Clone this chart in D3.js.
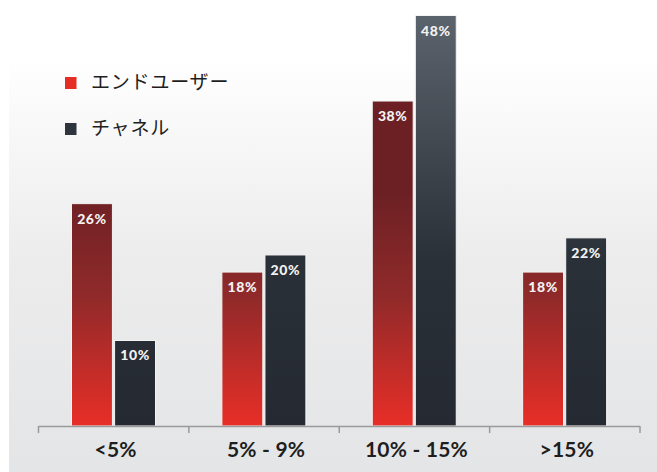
<!DOCTYPE html>
<html>
<head>
<meta charset="utf-8">
<script src="https://cdn.jsdelivr.net/npm/d3@7"></script>
<style>
  html, body { margin: 0; padding: 0; background: #ffffff; }
  svg { display: block; }
</style>
</head>
<body>
<svg id="chart" width="657" height="472"></svg>
<script>
// Share of respondents by growth range, end users vs. channel
const categories = ["<5%", "5% - 9%", "10% - 15%", ">15%"];
const seriesNames = ["エンドユーザー", "チャネル"];
const endUserValues = [26, 18, 38, 18];
const channelValues = [10, 20, 48, 22];

const W = 657, H = 472;
const svg = d3.select("#chart");
const defs = svg.append("defs");

// soft grey backdrop that fades in from the top
const bgGrad = defs.append("linearGradient")
  .attr("id", "bgGrad").attr("x1", 0).attr("x2", 0).attr("y1", 0).attr("y2", 1);
bgGrad.append("stop").attr("offset", "0.12").attr("stop-color", "#ffffff");
bgGrad.append("stop").attr("offset", "0.55").attr("stop-color", "#ececed");
bgGrad.append("stop").attr("offset", "1").attr("stop-color", "#e4e5e6");
svg.append("rect").attr("x", 9).attr("y", 0).attr("width", W - 9).attr("height", H)
  .attr("fill", "url(#bgGrad)");

// bar fills share one gradient across the plot height
const redGrad = defs.append("linearGradient")
  .attr("id", "redGrad").attr("gradientUnits", "userSpaceOnUse")
  .attr("x1", 0).attr("x2", 0).attr("y1", 0).attr("y2", 426);
redGrad.append("stop").attr("offset", "0.45").attr("stop-color", "#6c2024");
redGrad.append("stop").attr("offset", "0.7").attr("stop-color", "#912a2a");
redGrad.append("stop").attr("offset", "1").attr("stop-color", "#e82e27");

const darkGrad = defs.append("linearGradient")
  .attr("id", "darkGrad").attr("gradientUnits", "userSpaceOnUse")
  .attr("x1", 0).attr("x2", 0).attr("y1", 15).attr("y2", 426);
darkGrad.append("stop").attr("offset", "0").attr("stop-color", "#5b636c");
darkGrad.append("stop").attr("offset", "0.6").attr("stop-color", "#2a3038");
darkGrad.append("stop").attr("offset", "1").attr("stop-color", "#252a32");

const fills = ["url(#redGrad)", "url(#darkGrad)"];
const legendColors = ["#e52d26", "#2e353d"];

const x0 = d3.scaleBand().domain(categories).range([38.5, 640]).padding(0);
const x1 = d3.scaleBand().domain(seriesNames).range([33, 117]).paddingInner(0.05);
const y = d3.scaleLinear().domain([0, 48]).range([426, 15.5]);

const rows = categories.map((c, i) => ({
  cat: c,
  vals: [
    { name: seriesNames[0], v: endUserValues[i], fill: fills[0] },
    { name: seriesNames[1], v: channelValues[i], fill: fills[1] }
  ]
}));

const groups = svg.append("g").selectAll("g").data(rows).join("g")
  .attr("transform", d => `translate(${x0(d.cat)},0)`);

groups.selectAll("rect").data(d => d.vals).join("rect")
  .attr("x", d => x1(d.name))
  .attr("y", d => y(d.v))
  .attr("width", x1.bandwidth())
  .attr("height", d => y(0) - y(d.v))
  .attr("fill", d => d.fill)
  .attr("stroke", "#f4f4f4")
  .attr("stroke-width", 1);

groups.selectAll("text").data(d => d.vals).join("text")
  .attr("x", d => x1(d.name) + x1.bandwidth() / 2)
  .attr("y", d => y(d.v) + 20)
  .attr("text-anchor", "middle")
  .attr("fill", "#f2f2f2")
  .attr("font-family", "Lato, 'DejaVu Sans', sans-serif")
  .attr("font-weight", 900)
  .attr("font-size", 14)
  .attr("letter-spacing", 0.6)
  .text(d => d.v + "%");

// category axis with tick marks at the group boundaries
const axis = svg.append("g");
axis.append("line")
  .attr("x1", x0.range()[0]).attr("x2", x0.range()[1])
  .attr("y1", y(0) + 0.5).attr("y2", y(0) + 0.5)
  .attr("stroke", "#9a9a9a").attr("stroke-width", 1.5);
const tickXs = categories.map(c => x0(c)).concat([x0.range()[1]]);
axis.selectAll("line.tick").data(tickXs).join("line").attr("class", "tick")
  .attr("x1", d => d).attr("x2", d => d)
  .attr("y1", y(0)).attr("y2", y(0) + 7)
  .attr("stroke", "#9a9a9a").attr("stroke-width", 1.5);
axis.selectAll("text").data(categories).join("text")
  .attr("x", d => x0(d) + x0.bandwidth() / 2 + 2)
  .attr("y", 457)
  .attr("text-anchor", "middle")
  .attr("fill", "#1e1e1e")
  .attr("font-family", "Lato, 'DejaVu Sans', sans-serif")
  .attr("font-weight", 700)
  .attr("font-size", 21)
  .attr("letter-spacing", 0.2)
  .text(d => d);

// legend
const legend = svg.append("g").selectAll("g").data(seriesNames).join("g")
  .attr("transform", (d, i) => `translate(65,${77 + i * 46})`);
legend.append("rect")
  .attr("width", 11.5).attr("height", 12)
  .attr("fill", (d, i) => legendColors[i]);
legend.append("text")
  .attr("x", 26).attr("y", 12)
  .attr("fill", "#1e1e1e")
  .attr("font-family", "'Noto Sans CJK JP', sans-serif")
  .attr("font-size", 19)
  .attr("letter-spacing", 0.8)
  .text(d => d);
</script>
</body>
</html>
